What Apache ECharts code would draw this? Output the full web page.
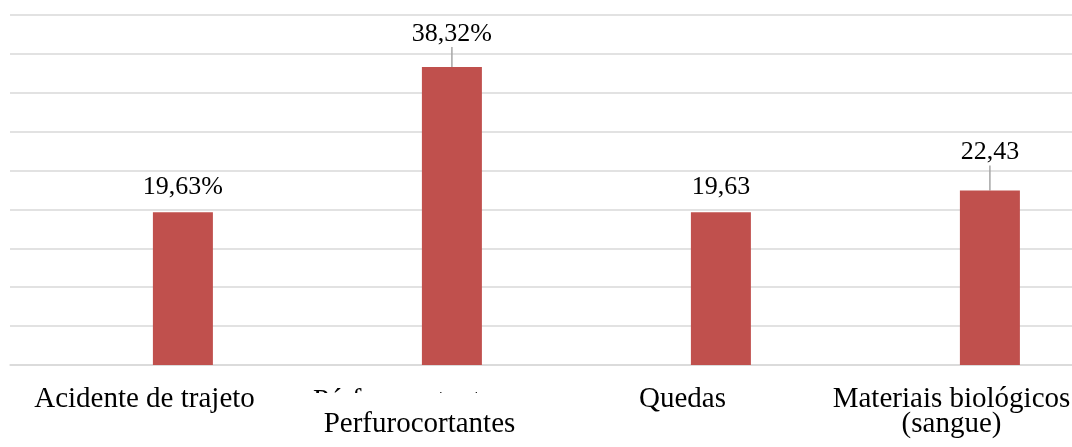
<!DOCTYPE html>
<html>
<head>
<meta charset="utf-8">
<script src="https://cdn.jsdelivr.net/npm/echarts@6/dist/echarts.min.js"></script>
<style>
html,body{margin:0;padding:0;background:#fff;}
#chart{width:1072px;height:447px;}
</style>
</head>
<body>
<div id="chart"></div>
<script>
// ---- data ----
const categories = ["Acidente de trajeto", "Perfurocortantes", "Quedas", "Materiais biológicos\n(sangue)"];
const values = [19.63, 38.32, 19.63, 22.43];
const labelSuffix = ["%", "%", "", ""];
const yTicks = [0, 5, 10, 15, 20, 25, 30, 35, 40, 45];
const ghostLabel = "Pérfurocortantes";

// ---- style constants (not data) ----
const labelLift = [0, -8, 0, -13];
const FONT = '"Liberation Serif", "Times New Roman", serif';

const chart = echarts.init(document.getElementById('chart'), null, {renderer: 'canvas'});

const barData = values.map((v, i) => ({
  value: v,
  labelLine: {show: labelLift[i] !== 0}
}));

chart.setOption({
  animation: false,
  backgroundColor: '#fff',
  grid: {left: 10, top: 15, width: 1076, height: 350, containLabel: false, outerBoundsMode: 'none'},
  xAxis: {
    type: 'category',
    data: categories,
    axisTick: {show: false},
    axisLine: {show: true, lineStyle: {color: '#d9d9d9', width: 1.5}},
    axisLabel: {
      interval: 0,
      margin: 22,
      color: '#000',
      fontFamily: FONT,
      fontSize: 29,
      lineHeight: 25,
      hideOverlap: false,
      formatter: (v, i) => (i === 1 ? '\n{p|' + v + '}' : v),
      rich: {
        p: {padding: [0, 0, 0, 12], color: '#000', fontFamily: FONT, fontSize: 29, lineHeight: 25}
      }
    }
  },
  yAxis: {
    type: 'value',
    min: yTicks[0],
    max: yTicks[yTicks.length - 1],
    interval: yTicks[1] - yTicks[0],
    axisLabel: {show: false},
    axisLine: {show: false},
    axisTick: {show: false},
    splitLine: {show: true, lineStyle: {color: '#d9d9d9', width: 1.5}}
  },
  series: [
    {
      type: 'bar',
      data: values.map(() => null),
      barWidth: 60,
      barGap: '28%',
      silent: true
    },
    {
      type: 'bar',
      data: barData,
      barWidth: 60,
      barGap: '28%',
      itemStyle: {color: '#c0504d'},
      label: {
        show: true,
        position: 'top',
        distance: 2,
        padding: [0, 0, 10, 0],
        color: '#000',
        fontFamily: FONT,
        fontSize: 26,
        formatter: p => p.value.toFixed(2).replace('.', ',') + labelSuffix[p.dataIndex]
      },
      labelLayout: p => ({dy: labelLift[p.dataIndex]}),
      labelLine: {
        show: false,
        lineStyle: {color: '#a6a6a6', width: 1.5}
      }
    }
  ],
  graphic: [
    {
      type: 'text',
      left: 313,
      top: 387,
      z: 50,
      style: {text: ghostLabel, fill: '#000', font: '29px ' + FONT}
    },
    {
      type: 'rect',
      left: 300,
      top: 393,
      z: 51,
      shape: {width: 240, height: 17},
      style: {fill: '#fff'}
    }
  ]
});
</script>
</body>
</html>
